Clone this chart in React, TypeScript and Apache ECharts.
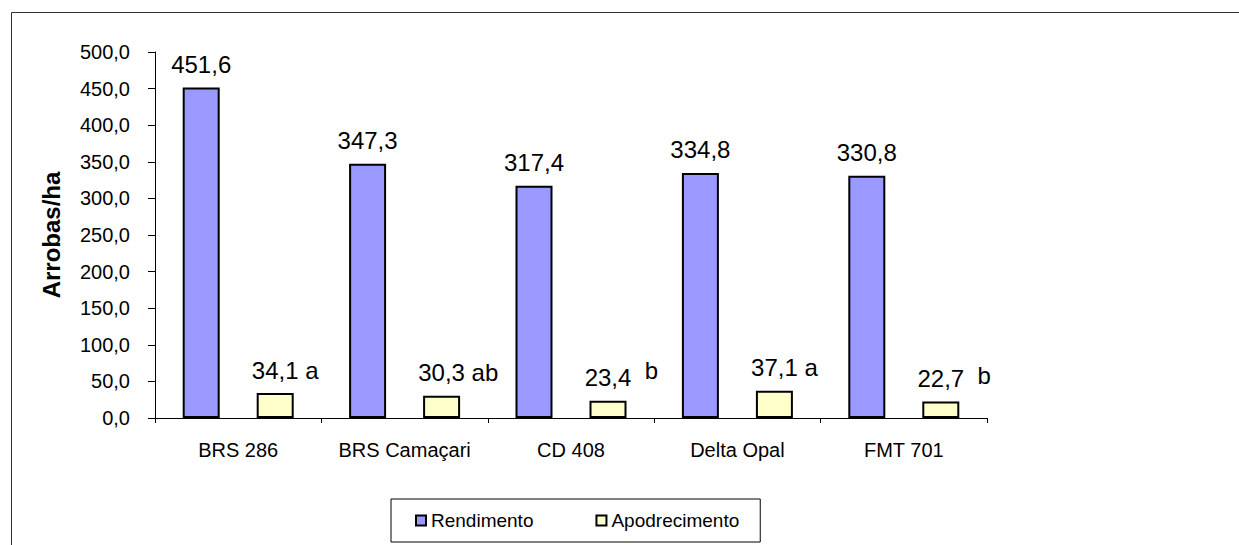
import React, { useEffect, useRef } from "react";
import * as echarts from "echarts";

const categories = ["BRS 286", "BRS Camaçari", "CD 408", "Delta Opal", "FMT 701"];
const rendimento = [451.6, 347.3, 317.4, 334.8, 330.8];
const apodrecimento = [34.1, 30.3, 23.4, 37.1, 22.7];
const apodLetters = ["a", "ab", "b", "a", "b"];
const letterRaise = [0, 0, 7, 0, 3];
const letterSpacer = [" ", " ", "  ", " ", "  "];
const yTicks = { min: 0, max: 500, interval: 50 };

const FONT = "'Liberation Sans', Arial, sans-serif";
const fmt = (v: number) => v.toFixed(1).replace(".", ",");

export default function App() {
  const ref = useRef<HTMLDivElement>(null);
  useEffect(() => {
    if (!ref.current) return;
    const chart = echarts.init(ref.current, null, { renderer: "svg" });
    const suffixWidth = (i: number) => (letterSpacer[i].length * 6.67 + apodLetters[i].length * 13.35);
    chart.setOption({
      animation: false,
      backgroundColor: "#ffffff",
      textStyle: { fontFamily: FONT, color: "#000" },
      graphic: [
        {
          type: "rect",
          left: 9,
          top: 10,
          shape: { x: 0.5, y: 0.5, width: 1300, height: 600 },
          style: { fill: "none", stroke: "#333", lineWidth: 1 },
          silent: true,
        },
      ],
      grid: { left: 155, top: 52, width: 832, height: 366, containLabel: false },
      legend: {
        left: 391,
        top: 499,
        padding: [12, 21, 12, 24],
        itemGap: 62,
        itemWidth: 10,
        itemHeight: 10,
        icon: "rect",
        borderColor: "#000",
        borderWidth: 1,
        textStyle: { fontSize: 19, fontFamily: FONT, color: "#000" },
        data: ["Rendimento", "Apodrecimento"],
      },
      xAxis: {
        type: "category",
        data: categories,
        axisLine: { lineStyle: { color: "#000", width: 1 } },
        axisTick: { show: true, length: 5, lineStyle: { color: "#000" } },
        axisLabel: { interval: 0, fontSize: 20, color: "#000", fontFamily: FONT, margin: 22 },
      },
      yAxis: {
        type: "value",
        min: yTicks.min,
        max: yTicks.max,
        interval: yTicks.interval,
        name: "Arrobas/ha",
        nameLocation: "middle",
        nameRotate: 90,
        nameGap: 92,
        nameTextStyle: { fontSize: 24, fontWeight: "bold", color: "#000", fontFamily: FONT },
        axisLine: { show: true, lineStyle: { color: "#000", width: 1 } },
        axisTick: { show: true, length: 7, lineStyle: { color: "#000" } },
        splitLine: { show: false },
        axisLabel: {
          fontSize: 20,
          color: "#000",
          fontFamily: FONT,
          margin: 25,
          formatter: (v: number) => fmt(v),
        },
      },
      series: [
        {
          name: "Rendimento",
          type: "bar",
          barWidth: 37,
          barGap: "100%",
          itemStyle: { color: "#9999FF", borderColor: "#000", borderWidth: 2 },
          label: {
            show: true,
            position: "top",
            distance: 11,
            fontSize: 24,
            color: "#000",
            fontFamily: FONT,
            formatter: (p: any) => fmt(p.value),
          },
          data: rendimento,
        },
        {
          name: "Apodrecimento",
          type: "bar",
          barWidth: 37,
          itemStyle: { color: "#FFFFCC", borderColor: "#000", borderWidth: 2 },
          data: apodrecimento.map((v, i) => ({
            value: v,
            label: {
              show: true,
              position: "top",
              distance: 11,
              offset: [suffixWidth(i) / 2, 0],
              formatter: `{n|${fmt(v)}}{n|${letterSpacer[i]}}{l|${apodLetters[i]}}`,
              rich: {
                n: { fontSize: 24, color: "#000", fontFamily: FONT, verticalAlign: "bottom" },
                l: {
                  fontSize: 24,
                  color: "#000",
                  fontFamily: FONT,
                  verticalAlign: "bottom",
                  padding: [0, 0, letterRaise[i], 0],
                },
              },
            },
          })),
        },
      ],
    });
    return () => chart.dispose();
  }, []);
  return (
    <div
      ref={ref}
      style={{ position: "absolute", left: 0, top: 0, width: 1239, height: 545 }}
    />
  );
}
